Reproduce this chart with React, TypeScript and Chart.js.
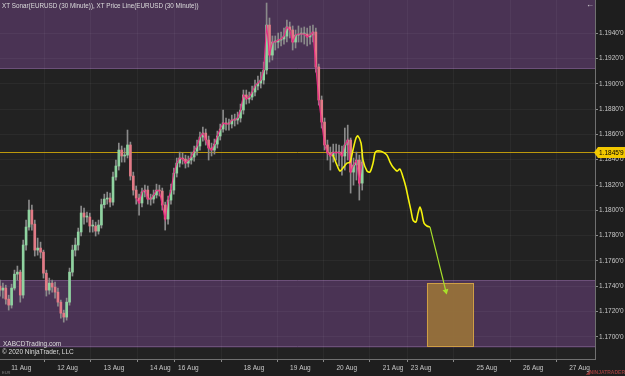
import React, { useEffect, useRef } from "react";
import { Chart, registerables } from "chart.js";

Chart.register(...registerables);

// ---- data (EURUSD, bars every 1.5 h, x in session hours) ----
const barHours = 1.5;
const firstOpen = 1.17402;
const closes = [
  1.17370, 1.17386, 1.17299, 1.17252, 1.17386, 1.17496, 1.17512, 1.17331, 1.17726, 1.17868,
  1.18002, 1.17891, 1.17686, 1.17702, 1.17670, 1.17504, 1.17370, 1.17425, 1.17394, 1.17354,
  1.17275, 1.17188, 1.17157, 1.17275, 1.17512, 1.17686, 1.17726, 1.17829, 1.17979, 1.17947,
  1.17947, 1.17876, 1.17876, 1.17836, 1.17884, 1.18045, 1.18089, 1.18097, 1.18065, 1.18263,
  1.18350, 1.18476, 1.18429, 1.18436, 1.18516, 1.18271, 1.18160, 1.18097, 1.18058, 1.18145,
  1.18160, 1.18089, 1.18089, 1.18121, 1.18160, 1.18152, 1.18042, 1.17931, 1.18081, 1.18160,
  1.18294, 1.18373, 1.18413, 1.18405, 1.18373, 1.18397, 1.18421, 1.18468, 1.18508, 1.18579,
  1.18610, 1.18555, 1.18492, 1.18476, 1.18523, 1.18587, 1.18642, 1.18690, 1.18682, 1.18682,
  1.18713, 1.18713, 1.18729, 1.18792, 1.18911, 1.18879, 1.18895, 1.18934, 1.18982, 1.19005,
  1.19029, 1.19108, 1.19463, 1.19226, 1.19329, 1.19329, 1.19345, 1.19353, 1.19376, 1.19448,
  1.19424, 1.19329, 1.19384, 1.19392, 1.19392, 1.19392, 1.19369, 1.19384, 1.19408, 1.19132,
  1.18871, 1.18697, 1.18516, 1.18453, 1.18429, 1.18460, 1.18453, 1.18460, 1.18429, 1.18516,
  1.18555, 1.18302, 1.18358, 1.18397, 1.18215, 1.18381,
];
const highs = [
  1.17449, 1.17425, 1.17409, 1.17330, 1.17417, 1.17528, 1.17560, 1.17528, 1.17765, 1.17923,
  1.18081, 1.18041, 1.17923, 1.17781, 1.17749, 1.17686, 1.17528, 1.17465, 1.17449, 1.17433,
  1.17386, 1.17291, 1.17212, 1.17307, 1.17544, 1.17725, 1.17781, 1.17860, 1.18034, 1.18018,
  1.17986, 1.17978, 1.17923, 1.17907, 1.17923, 1.18089, 1.18128, 1.18144, 1.18136, 1.18302,
  1.18397, 1.18531, 1.18508, 1.18492, 1.18634, 1.18539, 1.18302, 1.18192, 1.18128, 1.18176,
  1.18199, 1.18192, 1.18128, 1.18160, 1.18207, 1.18199, 1.18176, 1.18065, 1.18113, 1.18207,
  1.18334, 1.18413, 1.18460, 1.18452, 1.18436, 1.18429, 1.18460, 1.18508, 1.18555, 1.18618,
  1.18658, 1.18642, 1.18587, 1.18531, 1.18563, 1.18626, 1.18681, 1.18792, 1.18729, 1.18721,
  1.18752, 1.18760, 1.18776, 1.18839, 1.18950, 1.18950, 1.18934, 1.18982, 1.19029, 1.19061,
  1.19092, 1.19171, 1.19637, 1.19519, 1.19377, 1.19377, 1.19400, 1.19408, 1.19440, 1.19503,
  1.19487, 1.19456, 1.19424, 1.19456, 1.19440, 1.19448, 1.19440, 1.19456, 1.19463, 1.19440,
  1.19155, 1.18903, 1.18729, 1.18555, 1.18500, 1.18523, 1.18523, 1.18515, 1.18508, 1.18650,
  1.18673, 1.18571, 1.18413, 1.18460, 1.18436, 1.18476,
];
const lows = [
  1.17323, 1.17307, 1.17259, 1.17212, 1.17228, 1.17370, 1.17449, 1.17275, 1.17307, 1.17686,
  1.17844, 1.17844, 1.17639, 1.17646, 1.17623, 1.17465, 1.17323, 1.17338, 1.17354, 1.17307,
  1.17244, 1.17149, 1.17117, 1.17133, 1.17251, 1.17481, 1.17639, 1.17686, 1.17797, 1.17891,
  1.17907, 1.17828, 1.17828, 1.17797, 1.17812, 1.17860, 1.18018, 1.18049, 1.18026, 1.18041,
  1.18239, 1.18318, 1.18381, 1.18381, 1.18413, 1.18239, 1.18120, 1.18049, 1.17962, 1.18026,
  1.18105, 1.18049, 1.18041, 1.18057, 1.18097, 1.18113, 1.18002, 1.17844, 1.17891, 1.18049,
  1.18128, 1.18263, 1.18342, 1.18365, 1.18334, 1.18342, 1.18365, 1.18389, 1.18436, 1.18476,
  1.18547, 1.18515, 1.18397, 1.18429, 1.18444, 1.18492, 1.18555, 1.18618, 1.18634, 1.18634,
  1.18650, 1.18666, 1.18681, 1.18697, 1.18760, 1.18839, 1.18847, 1.18871, 1.18903, 1.18950,
  1.18966, 1.18997, 1.19076, 1.19171, 1.19187, 1.19266, 1.19282, 1.19298, 1.19313, 1.19329,
  1.19361, 1.19266, 1.19282, 1.19329, 1.19329, 1.19313, 1.19298, 1.19313, 1.19329, 1.19092,
  1.18831, 1.18650, 1.18476, 1.18397, 1.18318, 1.18381, 1.18397, 1.18350, 1.18278, 1.18318,
  1.18397, 1.18136, 1.18199, 1.18239, 1.18081, 1.18160,
];
const sonarStartBar = 47;

// projected path (XT Price Line)
const projHours = [
  172.4, 174.4, 176.0, 177.5, 179.6, 181.2, 182.7, 184.3, 185.3, 186.9, 187.9, 190.0,
  191.5, 193.1, 194.1, 195.1, 196.7, 198.2, 200.3, 201.9, 203.4, 205.5, 207.0, 208.6,
  210.1, 211.2, 212.7, 213.8, 215.3, 216.4, 217.4, 218.4, 219.5, 221.0, 222.6,
];
const projPrices = [
  1.18436, 1.18358, 1.18310, 1.18334, 1.18373, 1.18381, 1.18476, 1.18571, 1.18587, 1.18531,
  1.18397, 1.18310, 1.18302, 1.18373, 1.18452, 1.18468, 1.18468, 1.18460, 1.18436, 1.18381,
  1.18342, 1.18310, 1.18326, 1.18263, 1.18184, 1.18105, 1.18002, 1.17923, 1.17907, 1.17978,
  1.18026, 1.17978, 1.17899, 1.17876, 1.17868,
];
const arrowHours = [222.6, 230.8];
const arrowPrices = [1.17868, 1.17362];

// zones / levels
const zoneUpper = [1.19116, 1.19661];
const zoneLower = [1.16917, 1.1745];
const priceLevel = 1.18459;
const priceLevelLabel = "1.1845'9";
const targetBoxHours = [221.0, 244.8];
const targetBoxPrices = [1.16929, 1.17426];

// axes
const yMin = 1.16826;
const yMax = 1.19661;
const yTicks = [1.17, 1.172, 1.174, 1.176, 1.178, 1.18, 1.182, 1.184, 1.186, 1.188, 1.19, 1.192, 1.194];
const xMax = 308;
const dayLabels = ["11 Aug", "12 Aug", "13 Aug", "14 Aug", "16 Aug", "18 Aug", "19 Aug", "20 Aug", "21 Aug", "23 Aug", "25 Aug", "26 Aug", "27 Aug"];
const dayHours = [11, 35, 59, 83, 97.5, 131.5, 155.5, 179.5, 203.5, 218, 252, 276, 300];

const titleText = "XT Sonar(EURUSD (30 Minute)), XT Price Line(EURUSD (30 Minute))";
const FONT = "'Liberation Sans', Arial, sans-serif";

export default function App() {
  const ref = useRef<HTMLCanvasElement | null>(null);

  useEffect(() => {
    document.body.style.margin = "0";
    document.body.style.background = "#1e1e1e";
    const canvas = ref.current;
    if (!canvas) return;

    const times = closes.map((_, i) => i * barHours);
    const opens = [firstOpen, ...closes.slice(0, -1)];

    const overlay = {
      id: "overlay",
      beforeDraw(chart: any) {
        const { ctx, chartArea: a, scales } = chart;
        const y = scales.y;
        ctx.save();
        ctx.fillStyle = "#1e1e1e";
        ctx.fillRect(0, 0, chart.width, chart.height);
        ctx.fillStyle = "#222222";
        ctx.fillRect(a.left, a.top, a.right - a.left, a.bottom - a.top);
        for (const z of [zoneUpper, zoneLower]) {
          const t = Math.max(a.top, y.getPixelForValue(z[1]));
          const b = Math.min(a.bottom, y.getPixelForValue(z[0]));
          ctx.fillStyle = "#4a3354";
          ctx.fillRect(a.left, t, a.right - a.left, b - t);
          ctx.strokeStyle = "#6c5079";
          ctx.lineWidth = 1;
          ctx.beginPath();
          if (t > a.top + 1) { ctx.moveTo(a.left, Math.round(t) + 0.5); ctx.lineTo(a.right, Math.round(t) + 0.5); }
          if (b < a.bottom - 1) { ctx.moveTo(a.left, Math.round(b) - 0.5); ctx.lineTo(a.right, Math.round(b) - 0.5); }
          ctx.stroke();
        }
        ctx.restore();
      },
      beforeDatasetsDraw(chart: any) {
        const { ctx, chartArea: a, scales } = chart;
        const x = scales.x, y = scales.y;
        ctx.save();
        const bx0 = x.getPixelForValue(targetBoxHours[0]);
        const bx1 = x.getPixelForValue(targetBoxHours[1]);
        const by0 = y.getPixelForValue(targetBoxPrices[1]);
        const by1 = y.getPixelForValue(targetBoxPrices[0]);
        ctx.fillStyle = "rgba(150,113,58,0.95)";
        ctx.fillRect(bx0, by0, bx1 - bx0, by1 - by0);
        ctx.strokeStyle = "#cf9f45";
        ctx.lineWidth = 1;
        ctx.strokeRect(Math.round(bx0) + 0.5, Math.round(by0) + 0.5, Math.round(bx1 - bx0), Math.round(by1 - by0));
        const py = Math.round(y.getPixelForValue(priceLevel)) + 0.5;
        ctx.strokeStyle = "rgba(205,165,10,0.9)";
        ctx.beginPath();
        ctx.moveTo(a.left, py);
        ctx.lineTo(a.right, py);
        ctx.stroke();
        ctx.restore();
      },
      afterDraw(chart: any) {
        const { ctx, chartArea: a, scales } = chart;
        const y = scales.y;
        ctx.save();
        const py = Math.round(y.getPixelForValue(priceLevel)) + 0.5;
        ctx.fillStyle = "#f2c800";
        ctx.beginPath();
        ctx.moveTo(a.right - 1, py);
        ctx.lineTo(a.right + 3, py - 5.5);
        ctx.lineTo(chart.width, py - 5.5);
        ctx.lineTo(chart.width, py + 5.5);
        ctx.lineTo(a.right + 3, py + 5.5);
        ctx.closePath();
        ctx.fill();
        ctx.fillStyle = "#000";
        ctx.font = `6.5px ${FONT}`;
        ctx.textBaseline = "middle";
        ctx.textAlign = "left";
        ctx.fillText(priceLevelLabel, a.right + 4, py + 0.5);
        ctx.fillStyle = "#dcdcdc";
        ctx.font = `6.3px ${FONT}`;
        ctx.fillText(titleText, 2, 6);
        ctx.font = `6.5px ${FONT}`;
        ctx.fillText("XABCDTrading.com", 3, 344);
        ctx.fillText("\u00A9 2020 NinjaTrader, LLC", 2, 352.5);
        ctx.font = `8px ${FONT}`;
        ctx.fillText("\u2190", 586, 5);
        ctx.fillStyle = "#808080";
        ctx.font = `4px ${FONT}`;
        ctx.fillText("EUR", 2, 373);
        ctx.fillStyle = "rgba(190,70,70,0.75)";
        ctx.font = `bold 5px ${FONT}`;
        ctx.textAlign = "right";
        ctx.fillText("\u25E2NINJATRADER", 625, 373);
        ctx.restore();
      },
    };

    const chart = new Chart(canvas, {
      type: "bar",
      data: {
        datasets: [
          {
            type: "bar",
            label: "wicks",
            data: closes.map((_, i) => ({ x: times[i], y: [lows[i], highs[i]] })) as any,
            backgroundColor: "#8a8a8a",
            barThickness: 1,
            grouped: false,
            order: 5,
          } as any,
          {
            type: "bar",
            label: "bodies",
            data: closes.map((c, i) => ({ x: times[i], y: [opens[i], c] })) as any,
            backgroundColor: closes.map((c, i) => (c >= opens[i] ? "#8fd3a0" : "#e27a86")),
            barThickness: 2,
            minBarLength: 1,
            grouped: false,
            order: 4,
          } as any,
          {
            type: "line",
            label: "sonar",
            data: closes.slice(sonarStartBar).map((c, i) => ({ x: times[i + sonarStartBar], y: c })) as any,
            borderColor: "#ea2a84",
            borderWidth: 1.1,
            pointRadius: 0,
            tension: 0,
            order: 3,
          } as any,
          {
            type: "line",
            label: "projection",
            data: projHours.map((h, i) => ({ x: h, y: projPrices[i] })) as any,
            borderColor: "#f5f20c",
            borderWidth: 1.6,
            pointRadius: 0,
            tension: 0.3,
            order: 2,
          } as any,
          {
            type: "line",
            label: "arrow",
            data: arrowHours.map((h, i) => ({ x: h, y: arrowPrices[i] })) as any,
            borderColor: "#a8e02a",
            borderWidth: 1.2,
            pointRadius: [0, 3.5],
            pointStyle: "triangle",
            pointRotation: 166,
            pointBackgroundColor: "#a8e02a",
            pointBorderColor: "#a8e02a",
            pointBorderWidth: 0,
            order: 1,
          } as any,
        ],
      },
      options: {
        animation: false,
        responsive: false,
        devicePixelRatio: 1,
        layout: { padding: 0, autoPadding: false },
        plugins: { legend: { display: false }, tooltip: { enabled: false } },
        scales: {
          x: {
            type: "linear",
            min: 0,
            max: xMax,
            offset: false,
            afterFit(s: any) { s.height = 17; s.paddingLeft = 0; s.paddingRight = 0; },
            afterBuildTicks(s: any) { s.ticks = dayHours.map((v) => ({ value: v })); },
            ticks: {
              color: "#c8c8c8",
              font: { family: FONT, size: 6.5 },
              padding: 2,
              maxRotation: 0,
              autoSkip: false,
              callback: (_v: any, i: number) => dayLabels[i],
            },
            grid: { color: "rgba(255,255,255,0.045)", tickColor: "#8a8a8a", tickLength: 3 },
            border: { color: "#707070" },
          },
          y: {
            type: "linear",
            position: "right",
            min: yMin,
            max: yMax,
            afterFit(s: any) { s.width = 30; s.paddingTop = 0; s.paddingBottom = 0; },
            afterBuildTicks(s: any) { s.ticks = yTicks.map((v) => ({ value: v })); },
            ticks: {
              color: "#c8c8c8",
              font: { family: FONT, size: 6.5 },
              padding: 1,
              callback: (v: any) => Number(v).toFixed(4) + "'0",
            },
            grid: { color: "rgba(255,255,255,0.045)", tickColor: "#8a8a8a", tickLength: 3 },
            border: { color: "#707070" },
          },
        },
      } as any,
      plugins: [overlay],
    });

    return () => chart.destroy();
  }, []);

  return (
    <div style={{ width: 625, height: 376 }}>
      <canvas ref={ref} width={625} height={376} style={{ display: "block" }} />
    </div>
  );
}
